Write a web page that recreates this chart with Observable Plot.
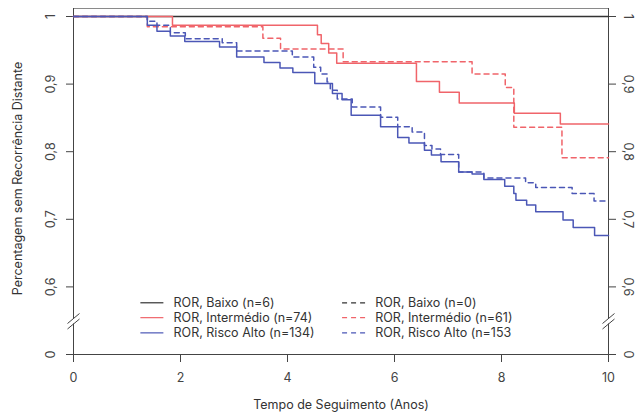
<!DOCTYPE html>
<html><head><meta charset="utf-8">
<script src="https://cdn.jsdelivr.net/npm/d3@7"></script>
<script src="https://cdn.jsdelivr.net/npm/@observablehq/plot@0.6"></script>
<style>body{margin:0;background:#fff}</style>
</head><body><div id="chart"></div>
<script>
// ---- data ----
const xTicks = [0, 2, 4, 6, 8, 10];
const yTicks = [0.5, 0.6, 0.7, 0.8, 0.9, 1];
const yTickLabels = ["0", "0,6", "0,7", "0,8", "0,9", "1"];
const xTitle = "Tempo de Seguimento (Anos)";
const yTitle = "Percentagem sem Recorrência Distante";
const followUpEnd = 10;

const legendSolid = ["ROR, Baixo (n=6)", "ROR, Intermédio (n=74)", "ROR, Risco Alto (n=134)"];
const legendDashed = ["ROR, Baixo (n=0)", "ROR, Intermédio (n=61)", "ROR, Risco Alto (n=153"];

const baixoSolidT = [0];
const baixoSolidS = [1];
const interSolidT = [0, 1.85, 4.56, 4.63, 4.77, 4.92, 6.41, 6.84, 7.21, 8.24, 9.10];
const interSolidS = [1, 0.987, 0.973, 0.960, 0.946, 0.931, 0.904, 0.888, 0.872, 0.857, 0.841];
const interDashT = [0, 1.38, 3.54, 3.87, 5.04, 7.45, 8.07, 8.23, 9.13];
const interDashS = [1, 0.985, 0.968, 0.952, 0.933, 0.915, 0.895, 0.836, 0.791];
const altoSolidT = [0, 1.38, 1.56, 1.81, 2.08, 2.73, 3.05, 3.56, 3.86, 4.10, 4.51, 4.84, 5.02, 5.19, 5.74, 6.06, 6.27, 6.56, 6.69, 6.87, 7.20, 7.45, 7.67, 8.06, 8.23, 8.27, 8.47, 8.64, 9.15, 9.34, 9.74];
const altoSolidS = [1, 0.987, 0.978, 0.971, 0.963, 0.955, 0.940, 0.932, 0.924, 0.917, 0.901, 0.886, 0.877, 0.854, 0.837, 0.821, 0.813, 0.802, 0.795, 0.785, 0.770, 0.767, 0.759, 0.749, 0.738, 0.728, 0.721, 0.711, 0.699, 0.688, 0.676];
const altoDashT = [0, 1.38, 1.56, 1.81, 2.09, 2.78, 3.05, 4.09, 4.49, 4.62, 4.74, 4.80, 4.93, 5.21, 5.74, 6.06, 6.33, 6.56, 6.70, 6.86, 7.20, 7.67, 8.45, 8.64, 9.32, 9.73];
const altoDashS = [1, 0.993, 0.987, 0.976, 0.967, 0.961, 0.949, 0.940, 0.925, 0.915, 0.903, 0.891, 0.878, 0.866, 0.851, 0.837, 0.829, 0.809, 0.804, 0.796, 0.770, 0.761, 0.754, 0.747, 0.738, 0.727];

// ---- styling ----
const RED = "#f0646a", BLUE = "#4b57b6", BLACK = "#333333";
const FONT = "Inter, 'Open Sans', sans-serif";
const series = [
  {t: baixoSolidT, s: baixoSolidS, color: BLACK, dash: null},
  {t: interDashT, s: interDashS, color: RED, dash: "5,4"},
  {t: interSolidT, s: interSolidS, color: RED, dash: null},
  {t: altoDashT, s: altoDashS, color: BLUE, dash: "5,4"},
  {t: altoSolidT, s: altoSolidS, color: BLUE, dash: null}
];
const toPts = d => {
  const p = d.t.map((t, i) => ({t, s: d.s[i]}));
  p.push({t: followUpEnd, s: d.s[d.s.length - 1]});
  return p;
};

const W = 635, H = 418, mL = 73, mR = 27, mT = 8, mB = 64;
const pxPerUnitY = (H - mT - mB - 8) / 0.5; // 1 -> 16px, 0.5 -> 354px
const yTop = 1 + 8 / pxPerUnitY;
const pxPerYear = (W - mL - mR) / 10;
const px2x = p => p / pxPerYear;
const px2y = p => p / pxPerUnitY;

// axis break geometry
const brkUpper = 0.5 + px2y(354 - 318);
const brkLower = 0.5 + px2y(354 - 323.5);
const slash = (xc, yc) => ({x1: xc - px2x(6), y1: yc - px2y(5), x2: xc + px2x(6), y2: yc + px2y(5)});
const slashes = [slash(0, brkUpper), slash(0, brkLower), slash(10, brkUpper), slash(10, brkLower)];

// legend layout
const legRows = [0.5765, 0.5545, 0.532];
const legendItems = [];
const legColors = [BLACK, RED, BLUE];
legendSolid.forEach((label, i) => legendItems.push({x1: 1.25, x2: 1.68, tx: 1.87, y: legRows[i], label, color: legColors[i], dash: null}));
legendDashed.forEach((label, i) => legendItems.push({x1: 5.02, x2: 5.46, tx: 5.64, y: legRows[i], label, color: legColors[i], dash: "5,4"}));

const marks = [
  Plot.ruleY([yTop], {x1: 0, x2: 10, stroke: "#8a8a8a", strokeWidth: 1}),
  Plot.ruleX([0, 10], {y1: 0.5, y2: brkLower, stroke: "#444"}),
  Plot.ruleX([0, 10], {y1: brkUpper, y2: yTop, stroke: "#444"}),
  Plot.link(slashes, {x1: "x1", y1: "y1", x2: "x2", y2: "y2", stroke: "#444"}),
  Plot.ruleY([0.5], {x1: 0, x2: 10, stroke: "#444"}),
  Plot.axisY({anchor: "left", ticks: yTicks, tickSize: 7, tickFormat: () => "", stroke: "#444"}),
  Plot.axisY({anchor: "right", ticks: yTicks, tickSize: 7, tickFormat: () => "", stroke: "#444"}),
  Plot.axisX({ticks: xTicks, tickSize: 8, tickFormat: () => "", stroke: "#444", label: null}),
  Plot.text(yTicks, {x: 0, y: d => d, dx: -23, rotate: -90, text: (d, i) => yTickLabels[i], fill: "#444", fontSize: 12.5}),
  Plot.text(yTicks, {x: 10, y: d => d, dx: 19, rotate: 90, text: (d, i) => yTickLabels[i], fill: "#444", fontSize: 12.5}),
  Plot.text(xTicks, {x: d => d, y: 0.5, dy: 23.5, text: d => String(d), fill: "#444", fontSize: 12.5}),
  Plot.text([xTitle], {frameAnchor: "bottom", dy: 54, text: d => d, fill: "#333", fontSize: 12.5}),
  Plot.text([yTitle], {frameAnchor: "left", dx: -56, dy: -3, rotate: -90, textAnchor: "middle", text: d => d, fill: "#333", fontSize: 12.5}),
  ...series.map(d => Plot.line(toPts(d), {x: "t", y: "s", curve: "step-after", stroke: d.color, strokeWidth: 1.5, strokeDasharray: d.dash})),
  ...legendItems.map(d => Plot.link([d], {x1: "x1", x2: "x2", y1: "y", y2: "y", stroke: d.color, strokeWidth: 1.2, strokeDasharray: d.dash})),
  Plot.text(legendItems, {x: "tx", y: "y", text: "label", textAnchor: "start", fill: "#333", fontSize: 12.5})
];

const chart = Plot.plot({
  width: W, height: H,
  marginLeft: mL, marginRight: mR, marginTop: mT, marginBottom: mB,
  x: {domain: [0, 10], axis: null},
  y: {domain: [0.5, yTop], axis: null},
  style: {fontFamily: FONT, fontSize: "12.5px", background: "white", color: "#444"},
  marks
});
document.getElementById("chart").appendChild(chart);
</script>
</body></html>
